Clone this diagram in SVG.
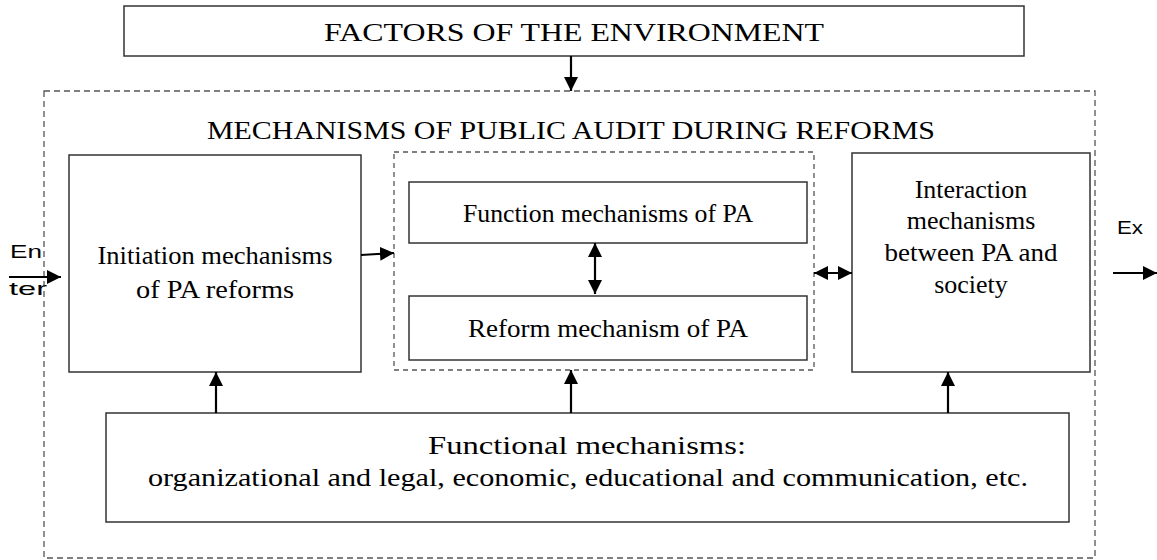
<svg xmlns="http://www.w3.org/2000/svg" width="1157" height="560" viewBox="0 0 1157 560">
<defs>
<marker id="ah" viewBox="0 0 10 10" refX="10" refY="5" markerWidth="14" markerHeight="14" markerUnits="userSpaceOnUse" orient="auto-start-reverse"><path d="M0,0 L10,5 L0,10 z" fill="#000"/></marker>
<style>
.box{fill:#fff;stroke:#333;stroke-width:1.5}
.dash{fill:none;stroke:#555;stroke-width:1.3;stroke-dasharray:6,4}
.dash2{fill:none;stroke:#555;stroke-width:1.3;stroke-dasharray:5,4}
.t{font-family:"Liberation Serif","Times New Roman",serif;font-size:26px;fill:#000;text-anchor:middle}
.s{font-family:"Liberation Sans",Arial,sans-serif;font-size:19px;fill:#000}
.c{stroke:#000;stroke-width:2.2;fill:none}
</style>
</defs>
<rect width="1157" height="560" fill="#fff"/>
<g id="outer"><rect class="dash" x="44" y="91" width="1051" height="467"/><text class="t" x="571" y="139" textLength="728" lengthAdjust="spacingAndGlyphs">MECHANISMS OF PUBLIC AUDIT DURING REFORMS</text></g>
<g id="factors"><rect class="box" x="124" y="6" width="900" height="50"/><text class="t" x="574" y="41" textLength="500" lengthAdjust="spacingAndGlyphs">FACTORS OF THE ENVIRONMENT</text></g>
<g id="initiation"><rect class="box" x="69" y="155" width="292" height="217"/><text class="t" x="215" y="264" textLength="235" lengthAdjust="spacingAndGlyphs">Initiation mechanisms</text><text class="t" x="215" y="298" textLength="158" lengthAdjust="spacingAndGlyphs">of PA reforms</text></g>
<g id="middle"><rect class="dash2" x="394" y="152" width="420" height="218"/></g>
<g id="function"><rect class="box" x="409" y="182" width="398" height="61"/><text class="t" x="608" y="222" textLength="290" lengthAdjust="spacingAndGlyphs">Function mechanisms of PA</text></g>
<g id="reform"><rect class="box" x="409" y="296" width="398" height="64"/><text class="t" x="608" y="337" textLength="280" lengthAdjust="spacingAndGlyphs">Reform mechanism of PA</text></g>
<g id="interaction"><rect class="box" x="852" y="153" width="238" height="219"/><text class="t" x="971" y="198">Interaction</text><text class="t" x="971" y="229">mechanisms</text><text class="t" x="971" y="261" textLength="173" lengthAdjust="spacingAndGlyphs">between PA and</text><text class="t" x="971" y="293">society</text></g>
<g id="functional"><rect class="box" x="106" y="413" width="963" height="109"/><text class="t" x="587" y="454" textLength="318" lengthAdjust="spacingAndGlyphs">Functional mechanisms:</text><text class="t" x="588" y="486" textLength="880" lengthAdjust="spacingAndGlyphs">organizational and legal, economic, educational and communication, etc.</text></g>
<g id="enter"><text class="s" x="10" y="258" textLength="32" lengthAdjust="spacingAndGlyphs">En</text><text class="s" x="9" y="295" textLength="38" lengthAdjust="spacingAndGlyphs">ter</text></g>
<g id="exit"><text class="s" x="1117" y="234" textLength="26" lengthAdjust="spacingAndGlyphs">Ex</text></g>
<g id="connectors">
<line class="c" x1="571" y1="56" x2="571" y2="91" marker-end="url(#ah)"/>
<line class="c" x1="9" y1="277" x2="61" y2="277" marker-end="url(#ah)"/>
<line class="c" x1="361" y1="255" x2="394" y2="253" marker-end="url(#ah)"/>
<line class="c" x1="595" y1="243" x2="595" y2="294" marker-start="url(#ah)" marker-end="url(#ah)"/>
<line class="c" x1="814" y1="273" x2="852" y2="273" marker-start="url(#ah)" marker-end="url(#ah)"/>
<line class="c" x1="1113" y1="273" x2="1157" y2="273" marker-end="url(#ah)"/>
<line class="c" x1="216" y1="413" x2="216" y2="372" marker-end="url(#ah)"/>
<line class="c" x1="571" y1="413" x2="571" y2="370" marker-end="url(#ah)"/>
<line class="c" x1="948" y1="413" x2="948" y2="372" marker-end="url(#ah)"/>
</g>
</svg>
